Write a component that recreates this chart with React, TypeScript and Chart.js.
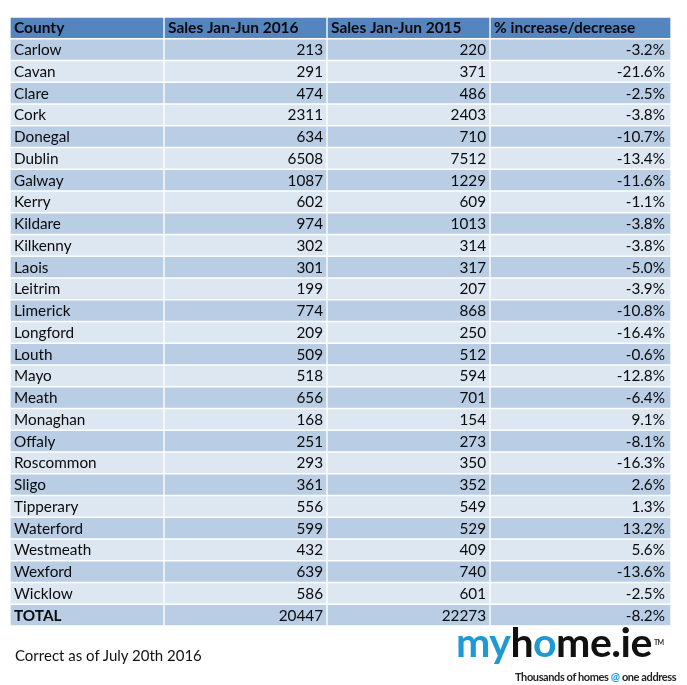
import React, { useEffect, useRef } from "react";
import { Chart, registerables } from "chart.js";

Chart.register(...registerables);

const headers = ["County", "Sales Jan-Jun 2016", "Sales Jan-Jun 2015", "% increase/decrease"];
const counties = [
  "Carlow", "Cavan", "Clare", "Cork", "Donegal", "Dublin", "Galway", "Kerry", "Kildare",
  "Kilkenny", "Laois", "Leitrim", "Limerick", "Longford", "Louth", "Mayo", "Meath",
  "Monaghan", "Offaly", "Roscommon", "Sligo", "Tipperary", "Waterford", "Westmeath",
  "Wexford", "Wicklow",
];
const sales2016 = [213, 291, 474, 2311, 634, 6508, 1087, 602, 974, 302, 301, 199, 774, 209, 509, 518, 656, 168, 251, 293, 361, 556, 599, 432, 639, 586];
const sales2015 = [220, 371, 486, 2403, 710, 7512, 1229, 609, 1013, 314, 317, 207, 868, 250, 512, 594, 701, 154, 273, 350, 352, 549, 529, 409, 740, 601];
const pctChange = [-3.2, -21.6, -2.5, -3.8, -10.7, -13.4, -11.6, -1.1, -3.8, -3.8, -5.0, -3.9, -10.8, -16.4, -0.6, -12.8, -6.4, 9.1, -8.1, -16.3, 2.6, 1.3, 13.2, 5.6, -13.6, -2.5];
const totalLabel = "TOTAL";
const total2016 = 20447;
const total2015 = 22273;
const totalPct = -8.2;

// column boundaries (layout units for the x scale)
const COL_EDGES = [0, 154, 317, 480, 661];
const HEADER_BG = "#5585c0";
const DARK_BG = "#b9cde5";
const LIGHT_BG = "#dde7f2";
const FONT = "Lato, 'Open Sans', sans-serif";

const rowLabels = [headers[0], ...counties, totalLabel];
const fmtPct = (v: number) => v.toFixed(1) + "%";

const rowTexts: string[][] = [
  headers,
  ...counties.map((c, i) => [c, String(sales2016[i]), String(sales2015[i]), fmtPct(pctChange[i])]),
  [totalLabel, String(total2016), String(total2015), fmtPct(totalPct)],
];

const rowColor = (r: number) => (r === 0 ? HEADER_BG : r % 2 === 1 ? DARK_BG : LIGHT_BG);

const textPlugin = {
  id: "tableText",
  afterDatasetsDraw(chart: any) {
    const { ctx, scales } = chart;
    const xs = scales.x;
    const ys = scales.y;
    ctx.save();
    ctx.fillStyle = "#0a0a0a";
    ctx.textBaseline = "alphabetic";
    rowTexts.forEach((cells, r) => {
      const y = ys.getPixelForValue(r) + 5.5;
      const isHeader = r === 0;
      const isTotal = r === rowTexts.length - 1;
      cells.forEach((txt, c) => {
        const bold = isHeader || (isTotal && c === 0);
        ctx.font = `${bold ? "bold " : ""}${isHeader ? 15.5 : 15.3}px ${FONT}`;
        const left = xs.getPixelForValue(COL_EDGES[c]);
        const right = xs.getPixelForValue(COL_EDGES[c + 1]);
        if (c === 0 || isHeader) {
          ctx.textAlign = "left";
          ctx.fillText(txt, left + 4, y);
        } else {
          ctx.textAlign = "right";
          ctx.fillText(txt, right - (c === 3 ? 6 : 4), y);
        }
      });
    });
    ctx.restore();
  },
};

export default function App() {
  const ref = useRef<HTMLCanvasElement | null>(null);
  useEffect(() => {
    document.body.style.margin = "0";
    if (!ref.current) return;
    const datasets = [0, 1, 2, 3].map((c) => ({
      label: headers[c],
      data: rowLabels.map(() => [COL_EDGES[c], COL_EDGES[c + 1]]),
      backgroundColor: rowLabels.map((_, r) => rowColor(r)),
      borderColor: "#ffffff",
      borderWidth: 1,
      borderSkipped: false,
      grouped: false,
      barPercentage: 1,
      categoryPercentage: 1,
    }));
    const chart = new Chart(ref.current, {
      type: "bar",
      data: { labels: rowLabels, datasets: datasets as any },
      options: {
        indexAxis: "y",
        animation: false,
        responsive: true,
        maintainAspectRatio: false,
        layout: { padding: { left: 10, top: 17, right: 16, bottom: 59 } },
        plugins: { legend: { display: false }, tooltip: { enabled: false } },
        scales: {
          x: { type: "linear", min: COL_EDGES[0], max: COL_EDGES[COL_EDGES.length - 1], display: false },
          y: { type: "category", display: false },
        },
      },
      plugins: [textPlugin],
    });
    return () => chart.destroy();
  }, []);

  return (
    <div style={{ position: "relative", width: 687, height: 685, background: "#fff", overflow: "hidden" }}>
      <canvas ref={ref} />
      <div
        style={{
          position: "absolute",
          left: 15,
          top: 646,
          fontFamily: FONT,
          fontSize: 15,
          color: "#111",
          whiteSpace: "nowrap",
        }}
      >
        Correct as of July 20th 2016
      </div>
      <div
        style={{
          position: "absolute",
          left: 456,
          top: 620,
          fontFamily: FONT,
          fontWeight: 700,
          fontSize: 41,
          lineHeight: "44px",
          letterSpacing: -0.5,
          whiteSpace: "nowrap",
        }}
      >
        <span style={{ color: "#1d9ad6" }}>my</span>
        <span style={{ color: "#111" }}>h</span>
        <span style={{ color: "#1d9ad6" }}>o</span>
        <span style={{ color: "#111" }}>me.ie</span>
        <span style={{ fontSize: 7, verticalAlign: "top", color: "#333", marginLeft: 2 }}>TM</span>
      </div>
      <div
        style={{
          position: "absolute",
          left: 515,
          top: 670,
          fontFamily: FONT,
          fontSize: 11,
          fontWeight: 700,
          color: "#222",
          whiteSpace: "nowrap",
          letterSpacing: -0.4,
        }}
      >
        Thousands of homes <span style={{ color: "#1d9ad6" }}>@</span> one address
      </div>
    </div>
  );
}
